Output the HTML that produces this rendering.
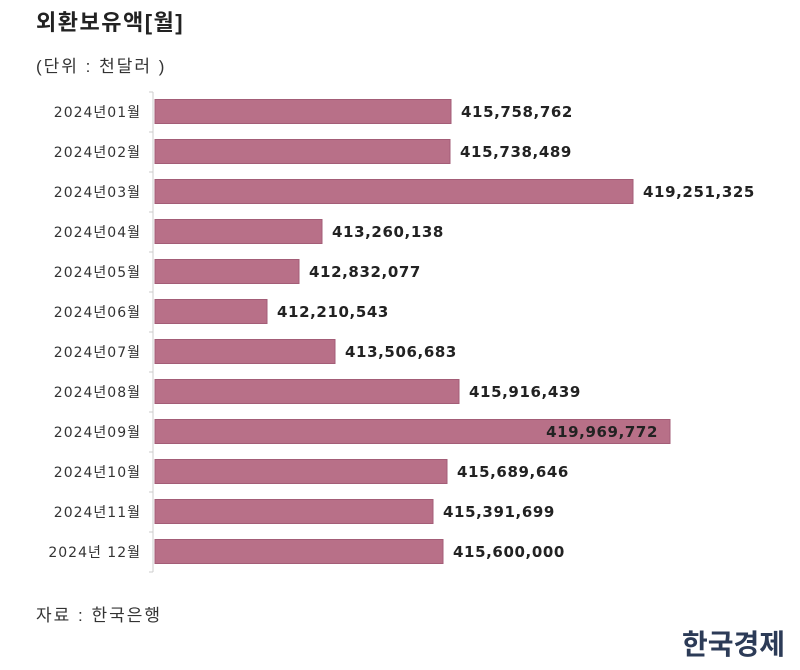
<!DOCTYPE html>
<html><head><meta charset="utf-8"><style>
body{margin:0;background:#fff;width:800px;height:665px;overflow:hidden}
svg text{font-family:"Liberation Sans","Noto Sans CJK KR",sans-serif}
svg .v text{font-family:"DejaVu Sans","Noto Sans CJK KR",sans-serif}
</style></head><body>
<svg width="800" height="665" xmlns="http://www.w3.org/2000/svg">
<text x="36" y="30" font-size="22" font-weight="bold" fill="#222" letter-spacing="1.5">외환보유액[월]</text>
<text x="36" y="72" font-size="17" fill="#333" letter-spacing="2">(단위 : 천달러 )</text>
<line x1="153" y1="92" x2="153" y2="572" stroke="#ccc" stroke-width="1"/>
<g stroke="#ccc"><line x1="149" y1="92" x2="153" y2="92"/><line x1="149" y1="132" x2="153" y2="132"/><line x1="149" y1="172" x2="153" y2="172"/><line x1="149" y1="212" x2="153" y2="212"/><line x1="149" y1="252" x2="153" y2="252"/><line x1="149" y1="292" x2="153" y2="292"/><line x1="149" y1="332" x2="153" y2="332"/><line x1="149" y1="372" x2="153" y2="372"/><line x1="149" y1="412" x2="153" y2="412"/><line x1="149" y1="452" x2="153" y2="452"/><line x1="149" y1="492" x2="153" y2="492"/><line x1="149" y1="532" x2="153" y2="532"/><line x1="149" y1="572" x2="153" y2="572"/></g>
<g fill="#b87088" stroke="#a35d77" stroke-width="1">
<rect x="155" y="99.5" width="296" height="24"/>
<rect x="155" y="139.5" width="295" height="24"/>
<rect x="155" y="179.5" width="478" height="24"/>
<rect x="155" y="219.5" width="167" height="24"/>
<rect x="155" y="259.5" width="144" height="24"/>
<rect x="155" y="299.5" width="112" height="24"/>
<rect x="155" y="339.5" width="180" height="24"/>
<rect x="155" y="379.5" width="304" height="24"/>
<rect x="155" y="419.5" width="515" height="24"/>
<rect x="155" y="459.5" width="292" height="24"/>
<rect x="155" y="499.5" width="278" height="24"/>
<rect x="155" y="539.5" width="288" height="24"/>
</g>
<g font-size="14" fill="#333" text-anchor="end" class="v" letter-spacing="1">
<text x="141" y="117">2024년01월</text><text x="141" y="157">2024년02월</text><text x="141" y="197">2024년03월</text><text x="141" y="237">2024년04월</text><text x="141" y="277">2024년05월</text><text x="141" y="317">2024년06월</text><text x="141" y="357">2024년07월</text><text x="141" y="397">2024년08월</text><text x="141" y="437">2024년09월</text><text x="141" y="477">2024년10월</text><text x="141" y="517">2024년11월</text><text x="141" y="557">2024년 12월</text>
</g>
<g font-size="15" font-weight="bold" fill="#222" class="v" letter-spacing="0.6">
<text x="461" y="117">415,758,762</text><text x="460" y="157">415,738,489</text><text x="643" y="197">419,251,325</text><text x="332" y="237">413,260,138</text><text x="309" y="277">412,832,077</text><text x="277" y="317">412,210,543</text><text x="345" y="357">413,506,683</text><text x="469" y="397">415,916,439</text><text x="658" y="437" text-anchor="end">419,969,772</text><text x="457" y="477">415,689,646</text><text x="443" y="517">415,391,699</text><text x="453" y="557">415,600,000</text>
</g>
<text x="36" y="621" font-size="17" fill="#333" letter-spacing="2">자료 : 한국은행</text>
<text x="785" y="654" font-size="28" font-weight="bold" fill="#2c3b57" text-anchor="end">한국경제</text>
</svg>
</body></html>
